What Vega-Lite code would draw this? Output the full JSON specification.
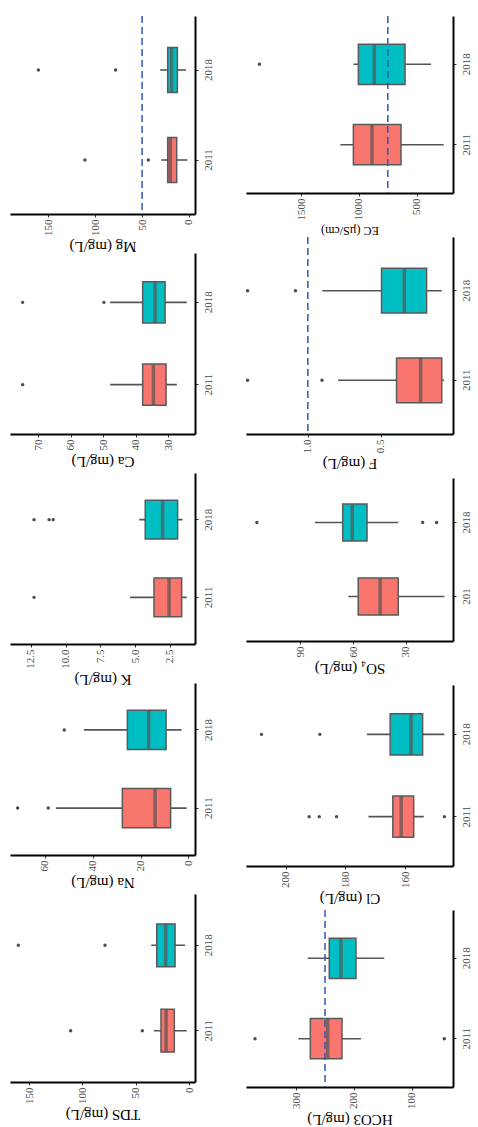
{
"$schema": "https://vega.github.io/schema/vega-lite/v6.json",
"padding": {"left": 10, "top": 15, "right": 0, "bottom": 0},
"background": "white",
"datasets": {
"box": [
{"p":"TDS","year":"2011","lower":2.2,"q1":13.8,"median":21.5,"q3":26.3,"upper":32.8},
{"p":"TDS","year":"2018","lower":3.8,"q1":13.1,"median":21.9,"q3":30.3,"upper":35.4},
{"p":"Na","year":"2011","lower":0.7,"q1":7.4,"median":13.9,"q3":27.6,"upper":55.4},
{"p":"Na","year":"2018","lower":2.8,"q1":9.3,"median":16.6,"q3":25.5,"upper":43.7},
{"p":"K","year":"2011","lower":1.3,"q1":1.66,"median":2.57,"q3":3.65,"upper":5.38},
{"p":"K","year":"2018","lower":1.59,"q1":1.95,"median":3.03,"q3":4.28,"upper":4.71},
{"p":"Ca","year":"2011","lower":27.4,"q1":30.7,"median":34.6,"q3":37.9,"upper":47.9},
{"p":"Ca","year":"2018","lower":24.3,"q1":31.0,"median":34.1,"q3":37.9,"upper":47.9},
{"p":"Mg","year":"2011","lower":1.8,"q1":13.1,"median":19.9,"q3":22.7,"upper":29.5},
{"p":"Mg","year":"2018","lower":3.2,"q1":12.4,"median":18.5,"q3":22.7,"upper":30.6},
{"p":"EC","year":"2011","lower":266,"q1":636,"median":887,"q3":1048,"upper":1161},
{"p":"EC","year":"2018","lower":376,"q1":601,"median":867,"q3":1005,"upper":1048},
{"p":"F","year":"2011","lower":0.066,"q1":0.082,"median":0.227,"q3":0.392,"upper":0.793},
{"p":"F","year":"2018","lower":0.082,"q1":0.186,"median":0.339,"q3":0.495,"upper":0.901},
{"p":"SO4","year":"2011","lower":8.2,"q1":34.4,"median":44.7,"q3":57.1,"upper":62.7},
{"p":"SO4","year":"2018","lower":34.4,"q1":52.1,"median":60.5,"q3":65.9,"upper":81.7},
{"p":"Cl","year":"2011","lower":153.7,"q1":157.1,"median":161.3,"q3":164.1,"upper":172.3},
{"p":"Cl","year":"2018","lower":146.8,"q1":154.1,"median":158.0,"q3":165.0,"upper":172.8},
{"p":"HCO3","year":"2011","lower":187.7,"q1":220.6,"median":245.3,"q3":275.4,"upper":296.2},
{"p":"HCO3","year":"2018","lower":147.4,"q1":196.4,"median":222.3,"q3":242.6,"upper":279.9}
],
"out": [
{"p":"TDS","year":"2011","v":43.8},{"p":"TDS","year":"2011","v":111},
{"p":"TDS","year":"2018","v":78.8},{"p":"TDS","year":"2018","v":160.1},
{"p":"Na","year":"2011","v":58.6},{"p":"Na","year":"2011","v":71.4},
{"p":"Na","year":"2018","v":51.9},
{"p":"K","year":"2011","v":12.28},
{"p":"K","year":"2018","v":12.28},{"p":"K","year":"2018","v":11.2},{"p":"K","year":"2018","v":10.9},
{"p":"Ca","year":"2011","v":74.8},
{"p":"Ca","year":"2018","v":49.8},{"p":"Ca","year":"2018","v":74.8},
{"p":"Mg","year":"2011","v":43.4},{"p":"Mg","year":"2011","v":110.9},
{"p":"Mg","year":"2018","v":78.2},{"p":"Mg","year":"2018","v":160.6},
{"p":"EC","year":"2018","v":1861},
{"p":"F","year":"2011","v":0.903},{"p":"F","year":"2011","v":1.413},
{"p":"F","year":"2018","v":1.085},{"p":"F","year":"2018","v":1.413},
{"p":"SO4","year":"2018","v":114.6},{"p":"SO4","year":"2018","v":20.5},{"p":"SO4","year":"2018","v":12.6},
{"p":"Cl","year":"2011","v":183},{"p":"Cl","year":"2011","v":188.8},{"p":"Cl","year":"2011","v":192.2},{"p":"Cl","year":"2011","v":146.8},
{"p":"Cl","year":"2018","v":188.6},{"p":"Cl","year":"2018","v":208.2},
{"p":"HCO3","year":"2011","v":371.1},{"p":"HCO3","year":"2011","v":43.6}
],
"ref": [
{"p":"Mg","v":50},{"p":"EC","v":750},{"p":"F","v":1.0},{"p":"HCO3","v":250}
]
},
"spacing": 32,
"hconcat": [
{"spacing": 39, "bounds": "flush", "vconcat": [
{"width": 185, "height": 198, "layer": [
{"data":{"name":"box"},"transform":[{"filter":"datum.p=='Mg'"}],"mark":{"type":"rule","color":"#555555","strokeWidth":1.6},
"encoding":{"x":{"field":"lower","type":"quantitative","scale":{"domain":[-6.4,190.8],"reverse":true,"nice":false,"zero":false},"axis":{"orient":"bottom","values":[0,50,100,150],"title":"Mg (mg/L)"}},"x2":{"field":"upper"},
"y":{"field":"year","type":"nominal","scale":{"domain":["2018","2011"],"paddingInner":0.5,"paddingOuter":0.35},"axis":{"orient":"right","title":null}}}},
{"data":{"name":"box"},"transform":[{"filter":"datum.p=='Mg'"}],"mark":{"type":"bar","stroke":"#5a5a5a","strokeWidth":1.5},
"encoding":{"x":{"field":"q1","type":"quantitative"},"x2":{"field":"q3"},"y":{"field":"year","type":"nominal"},"fill":{"field":"year","type":"nominal","scale":{"domain":["2011","2018"],"range":["#F8766D","#00BFC4"]},"legend":null}}},
{"data":{"name":"box"},"transform":[{"filter":"datum.p=='Mg'"}],"mark":{"type":"tick","thickness":3.5,"size":45,"color":"#555555"},
"encoding":{"x":{"field":"median","type":"quantitative"},"y":{"field":"year","type":"nominal"}}},
{"data":{"name":"out"},"transform":[{"filter":"datum.p=='Mg'"}],"mark":{"type":"circle","size":12,"color":"#4d4d4d","opacity":1},
"encoding":{"x":{"field":"v","type":"quantitative"},"y":{"field":"year","type":"nominal"}}},
{"data":{"name":"ref"},"transform":[{"filter":"datum.p=='Mg'"}],"mark":{"type":"rule","color":"#3355bb","strokeWidth":1.5,"strokeDash":[7,4]},
"encoding":{"x":{"field":"v","type":"quantitative"}}}
]},
{"width": 185, "height": 181, "layer": [
{"data":{"name":"box"},"transform":[{"filter":"datum.p=='Ca'"}],"mark":{"type":"rule","color":"#555555","strokeWidth":1.6},
"encoding":{"x":{"field":"lower","type":"quantitative","scale":{"domain":[21.8,78.7],"reverse":true,"nice":false,"zero":false},"axis":{"orient":"bottom","values":[30,40,50,60,70],"title":"Ca (mg/L)"}},"x2":{"field":"upper"},
"y":{"field":"year","type":"nominal","scale":{"domain":["2018","2011"],"paddingInner":0.5,"paddingOuter":0.35},"axis":{"orient":"right","title":null}}}},
{"data":{"name":"box"},"transform":[{"filter":"datum.p=='Ca'"}],"mark":{"type":"bar","stroke":"#5a5a5a","strokeWidth":1.5},
"encoding":{"x":{"field":"q1","type":"quantitative"},"x2":{"field":"q3"},"y":{"field":"year","type":"nominal"},"fill":{"field":"year","type":"nominal","scale":{"domain":["2011","2018"],"range":["#F8766D","#00BFC4"]},"legend":null}}},
{"data":{"name":"box"},"transform":[{"filter":"datum.p=='Ca'"}],"mark":{"type":"tick","thickness":3.5,"size":41,"color":"#555555"},
"encoding":{"x":{"field":"median","type":"quantitative"},"y":{"field":"year","type":"nominal"}}},
{"data":{"name":"out"},"transform":[{"filter":"datum.p=='Ca'"}],"mark":{"type":"circle","size":12,"color":"#4d4d4d","opacity":1},
"encoding":{"x":{"field":"v","type":"quantitative"},"y":{"field":"year","type":"nominal"}}}
]},
{"width": 185, "height": 171, "layer": [
{"data":{"name":"box"},"transform":[{"filter":"datum.p=='K'"}],"mark":{"type":"rule","color":"#555555","strokeWidth":1.6},
"encoding":{"x":{"field":"lower","type":"quantitative","scale":{"domain":[0.7,14.01],"reverse":true,"nice":false,"zero":false},"axis":{"orient":"bottom","values":[2.5,5,7.5,10,12.5],"format":".1f","title":"K (mg/L)"}},"x2":{"field":"upper"},
"y":{"field":"year","type":"nominal","scale":{"domain":["2018","2011"],"paddingInner":0.5,"paddingOuter":0.35},"axis":{"orient":"right","title":null}}}},
{"data":{"name":"box"},"transform":[{"filter":"datum.p=='K'"}],"mark":{"type":"bar","stroke":"#5a5a5a","strokeWidth":1.5},
"encoding":{"x":{"field":"q1","type":"quantitative"},"x2":{"field":"q3"},"y":{"field":"year","type":"nominal"},"fill":{"field":"year","type":"nominal","scale":{"domain":["2011","2018"],"range":["#F8766D","#00BFC4"]},"legend":null}}},
{"data":{"name":"box"},"transform":[{"filter":"datum.p=='K'"}],"mark":{"type":"tick","thickness":3.5,"size":39,"color":"#555555"},
"encoding":{"x":{"field":"median","type":"quantitative"},"y":{"field":"year","type":"nominal"}}},
{"data":{"name":"out"},"transform":[{"filter":"datum.p=='K'"}],"mark":{"type":"circle","size":12,"color":"#4d4d4d","opacity":1},
"encoding":{"x":{"field":"v","type":"quantitative"},"y":{"field":"year","type":"nominal"}}}
]},
{"width": 185, "height": 172, "layer": [
{"data":{"name":"box"},"transform":[{"filter":"datum.p=='Na'"}],"mark":{"type":"rule","color":"#555555","strokeWidth":1.6},
"encoding":{"x":{"field":"lower","type":"quantitative","scale":{"domain":[-2.8,74.6],"reverse":true,"nice":false,"zero":false},"axis":{"orient":"bottom","values":[0,20,40,60],"title":"Na (mg/L)"}},"x2":{"field":"upper"},
"y":{"field":"year","type":"nominal","scale":{"domain":["2018","2011"],"paddingInner":0.5,"paddingOuter":0.35},"axis":{"orient":"right","title":null}}}},
{"data":{"name":"box"},"transform":[{"filter":"datum.p=='Na'"}],"mark":{"type":"bar","stroke":"#5a5a5a","strokeWidth":1.5},
"encoding":{"x":{"field":"q1","type":"quantitative"},"x2":{"field":"q3"},"y":{"field":"year","type":"nominal"},"fill":{"field":"year","type":"nominal","scale":{"domain":["2011","2018"],"range":["#F8766D","#00BFC4"]},"legend":null}}},
{"data":{"name":"box"},"transform":[{"filter":"datum.p=='Na'"}],"mark":{"type":"tick","thickness":3.5,"size":39,"color":"#555555"},
"encoding":{"x":{"field":"median","type":"quantitative"},"y":{"field":"year","type":"nominal"}}},
{"data":{"name":"out"},"transform":[{"filter":"datum.p=='Na'"}],"mark":{"type":"circle","size":12,"color":"#4d4d4d","opacity":1},
"encoding":{"x":{"field":"v","type":"quantitative"},"y":{"field":"year","type":"nominal"}}}
]},
{"width": 185, "height": 188, "layer": [
{"data":{"name":"box"},"transform":[{"filter":"datum.p=='TDS'"}],"mark":{"type":"rule","color":"#555555","strokeWidth":1.6},
"encoding":{"x":{"field":"lower","type":"quantitative","scale":{"domain":[-5.6,167.9],"reverse":true,"nice":false,"zero":false},"axis":{"orient":"bottom","values":[0,50,100,150],"title":"TDS (mg/L)"}},"x2":{"field":"upper"},
"y":{"field":"year","type":"nominal","scale":{"domain":["2018","2011"],"paddingInner":0.5,"paddingOuter":0.35},"axis":{"orient":"right","title":null}}}},
{"data":{"name":"box"},"transform":[{"filter":"datum.p=='TDS'"}],"mark":{"type":"bar","stroke":"#5a5a5a","strokeWidth":1.5},
"encoding":{"x":{"field":"q1","type":"quantitative"},"x2":{"field":"q3"},"y":{"field":"year","type":"nominal"},"fill":{"field":"year","type":"nominal","scale":{"domain":["2011","2018"],"range":["#F8766D","#00BFC4"]},"legend":null}}},
{"data":{"name":"box"},"transform":[{"filter":"datum.p=='TDS'"}],"mark":{"type":"tick","thickness":3.5,"size":43,"color":"#555555"},
"encoding":{"x":{"field":"median","type":"quantitative"},"y":{"field":"year","type":"nominal"}}},
{"data":{"name":"out"},"transform":[{"filter":"datum.p=='TDS'"}],"mark":{"type":"circle","size":12,"color":"#4d4d4d","opacity":1},
"encoding":{"x":{"field":"v","type":"quantitative"},"y":{"field":"year","type":"nominal"}}}
]}
]},
{"spacing": 44, "bounds": "flush", "vconcat": [
{"width": 207, "height": 177, "layer": [
{"data":{"name":"box"},"transform":[{"filter":"datum.p=='EC'"}],"mark":{"type":"rule","color":"#555555","strokeWidth":1.6},
"encoding":{"x":{"field":"lower","type":"quantitative","scale":{"domain":[186,1977],"reverse":true,"nice":false,"zero":false},"axis":{"orient":"bottom","values":[500,1000,1500],"format":"d","title":"EC (µS/cm)","titleFontSize":12}},"x2":{"field":"upper"},
"y":{"field":"year","type":"nominal","scale":{"domain":["2018","2011"],"paddingInner":0.5,"paddingOuter":0.35},"axis":{"orient":"right","title":null}}}},
{"data":{"name":"box"},"transform":[{"filter":"datum.p=='EC'"}],"mark":{"type":"bar","stroke":"#5a5a5a","strokeWidth":1.5},
"encoding":{"x":{"field":"q1","type":"quantitative"},"x2":{"field":"q3"},"y":{"field":"year","type":"nominal"},"fill":{"field":"year","type":"nominal","scale":{"domain":["2011","2018"],"range":["#F8766D","#00BFC4"]},"legend":null}}},
{"data":{"name":"box"},"transform":[{"filter":"datum.p=='EC'"}],"mark":{"type":"tick","thickness":3.5,"size":40,"color":"#555555"},
"encoding":{"x":{"field":"median","type":"quantitative"},"y":{"field":"year","type":"nominal"}}},
{"data":{"name":"out"},"transform":[{"filter":"datum.p=='EC'"}],"mark":{"type":"circle","size":12,"color":"#4d4d4d","opacity":1},
"encoding":{"x":{"field":"v","type":"quantitative"},"y":{"field":"year","type":"nominal"}}},
{"data":{"name":"ref"},"transform":[{"filter":"datum.p=='EC'"}],"mark":{"type":"rule","color":"#3355bb","strokeWidth":1.5,"strokeDash":[7,4]},
"encoding":{"x":{"field":"v","type":"quantitative"}}}
]},
{"width": 207, "height": 197, "layer": [
{"data":{"name":"box"},"transform":[{"filter":"datum.p=='F'"}],"mark":{"type":"rule","color":"#555555","strokeWidth":1.6},
"encoding":{"x":{"field":"lower","type":"quantitative","scale":{"domain":[0.005,1.424],"reverse":true,"nice":false,"zero":false},"axis":{"orient":"bottom","values":[0.5,1.0],"format":".1f","title":"F (mg/L)"}},"x2":{"field":"upper"},
"y":{"field":"year","type":"nominal","scale":{"domain":["2018","2011"],"paddingInner":0.5,"paddingOuter":0.35},"axis":{"orient":"right","title":null}}}},
{"data":{"name":"box"},"transform":[{"filter":"datum.p=='F'"}],"mark":{"type":"bar","stroke":"#5a5a5a","strokeWidth":1.5},
"encoding":{"x":{"field":"q1","type":"quantitative"},"x2":{"field":"q3"},"y":{"field":"year","type":"nominal"},"fill":{"field":"year","type":"nominal","scale":{"domain":["2011","2018"],"range":["#F8766D","#00BFC4"]},"legend":null}}},
{"data":{"name":"box"},"transform":[{"filter":"datum.p=='F'"}],"mark":{"type":"tick","thickness":3.5,"size":45,"color":"#555555"},
"encoding":{"x":{"field":"median","type":"quantitative"},"y":{"field":"year","type":"nominal"}}},
{"data":{"name":"out"},"transform":[{"filter":"datum.p=='F'"}],"mark":{"type":"circle","size":12,"color":"#4d4d4d","opacity":1},
"encoding":{"x":{"field":"v","type":"quantitative"},"y":{"field":"year","type":"nominal"}}},
{"data":{"name":"ref"},"transform":[{"filter":"datum.p=='F'"}],"mark":{"type":"rule","color":"#3355bb","strokeWidth":1.5,"strokeDash":[7,4]},
"encoding":{"x":{"field":"v","type":"quantitative"}}}
]},
{"width": 207, "height": 163, "layer": [
{"data":{"name":"box"},"transform":[{"filter":"datum.p=='SO4'"}],"mark":{"type":"rule","color":"#555555","strokeWidth":1.6},
"encoding":{"x":{"field":"lower","type":"quantitative","scale":{"domain":[3.3,120.8],"reverse":true,"nice":false,"zero":false},"axis":{"orient":"bottom","values":[30,60,90],"title":"SO₄ (mg/L)"}},"x2":{"field":"upper"},
"y":{"field":"year","type":"nominal","scale":{"domain":["2018","2011"],"paddingInner":0.5,"paddingOuter":0.35},"axis":{"orient":"right","title":null,"labelExpr":"datum.value == '2011' ? '201' : datum.value"}}}},
{"data":{"name":"box"},"transform":[{"filter":"datum.p=='SO4'"}],"mark":{"type":"bar","stroke":"#5a5a5a","strokeWidth":1.5},
"encoding":{"x":{"field":"q1","type":"quantitative"},"x2":{"field":"q3"},"y":{"field":"year","type":"nominal"},"fill":{"field":"year","type":"nominal","scale":{"domain":["2011","2018"],"range":["#F8766D","#00BFC4"]},"legend":null}}},
{"data":{"name":"box"},"transform":[{"filter":"datum.p=='SO4'"}],"mark":{"type":"tick","thickness":3.5,"size":37,"color":"#555555"},
"encoding":{"x":{"field":"median","type":"quantitative"},"y":{"field":"year","type":"nominal"}}},
{"data":{"name":"out"},"transform":[{"filter":"datum.p=='SO4'"}],"mark":{"type":"circle","size":12,"color":"#4d4d4d","opacity":1},
"encoding":{"x":{"field":"v","type":"quantitative"},"y":{"field":"year","type":"nominal"}}}
]},
{"width": 207, "height": 181, "layer": [
{"data":{"name":"box"},"transform":[{"filter":"datum.p=='Cl'"}],"mark":{"type":"rule","color":"#555555","strokeWidth":1.6},
"encoding":{"x":{"field":"lower","type":"quantitative","scale":{"domain":[143.9,213.4],"reverse":true,"nice":false,"zero":false},"axis":{"orient":"bottom","values":[160,180,200],"title":"Cl (mg/L)"}},"x2":{"field":"upper"},
"y":{"field":"year","type":"nominal","scale":{"domain":["2018","2011"],"paddingInner":0.5,"paddingOuter":0.35},"axis":{"orient":"right","title":null}}}},
{"data":{"name":"box"},"transform":[{"filter":"datum.p=='Cl'"}],"mark":{"type":"bar","stroke":"#5a5a5a","strokeWidth":1.5},
"encoding":{"x":{"field":"q1","type":"quantitative"},"x2":{"field":"q3"},"y":{"field":"year","type":"nominal"},"fill":{"field":"year","type":"nominal","scale":{"domain":["2011","2018"],"range":["#F8766D","#00BFC4"]},"legend":null}}},
{"data":{"name":"box"},"transform":[{"filter":"datum.p=='Cl'"}],"mark":{"type":"tick","thickness":3.5,"size":41,"color":"#555555"},
"encoding":{"x":{"field":"median","type":"quantitative"},"y":{"field":"year","type":"nominal"}}},
{"data":{"name":"out"},"transform":[{"filter":"datum.p=='Cl'"}],"mark":{"type":"circle","size":12,"color":"#4d4d4d","opacity":1},
"encoding":{"x":{"field":"v","type":"quantitative"},"y":{"field":"year","type":"nominal"}}}
]},
{"width": 207, "height": 177, "layer": [
{"data":{"name":"box"},"transform":[{"filter":"datum.p=='HCO3'"}],"mark":{"type":"rule","color":"#555555","strokeWidth":1.6},
"encoding":{"x":{"field":"lower","type":"quantitative","scale":{"domain":[28.5,386.7],"reverse":true,"nice":false,"zero":false},"axis":{"orient":"bottom","values":[100,200,300],"title":"HCO3 (mg/L)"}},"x2":{"field":"upper"},
"y":{"field":"year","type":"nominal","scale":{"domain":["2018","2011"],"paddingInner":0.5,"paddingOuter":0.35},"axis":{"orient":"right","title":null}}}},
{"data":{"name":"box"},"transform":[{"filter":"datum.p=='HCO3'"}],"mark":{"type":"bar","stroke":"#5a5a5a","strokeWidth":1.5},
"encoding":{"x":{"field":"q1","type":"quantitative"},"x2":{"field":"q3"},"y":{"field":"year","type":"nominal"},"fill":{"field":"year","type":"nominal","scale":{"domain":["2011","2018"],"range":["#F8766D","#00BFC4"]},"legend":null}}},
{"data":{"name":"box"},"transform":[{"filter":"datum.p=='HCO3'"}],"mark":{"type":"tick","thickness":3.5,"size":40,"color":"#555555"},
"encoding":{"x":{"field":"median","type":"quantitative"},"y":{"field":"year","type":"nominal"}}},
{"data":{"name":"out"},"transform":[{"filter":"datum.p=='HCO3'"}],"mark":{"type":"circle","size":12,"color":"#4d4d4d","opacity":1},
"encoding":{"x":{"field":"v","type":"quantitative"},"y":{"field":"year","type":"nominal"}}},
{"data":{"name":"ref"},"transform":[{"filter":"datum.p=='HCO3'"}],"mark":{"type":"rule","color":"#3355bb","strokeWidth":1.5,"strokeDash":[7,4]},
"encoding":{"x":{"field":"v","type":"quantitative"}}}
]}
]}
],
"config": {
"view": {"stroke": null},
"font": "Liberation Serif",
"axis": {"domainColor":"black","domainWidth":2,"tickColor":"#333333","tickSize":3,"tickWidth":1,"grid":false,"labelFont":"Liberation Serif","titleFont":"Liberation Serif","labelColor":"#4d4d4d","titleColor":"black","titleFontWeight":"normal","labelAngle":-90,"labelOverlap":false},
"axisX": {"labelAlign":"right","labelBaseline":"middle","labelFontSize":11,"labelPadding":2,"titleAngle":180,"titleBaseline":"bottom","titleFontSize":15,"titlePadding":3},
"axisY": {"labelAlign":"center","labelBaseline":"top","labelFontSize":11,"labelPadding":4}
}
}
